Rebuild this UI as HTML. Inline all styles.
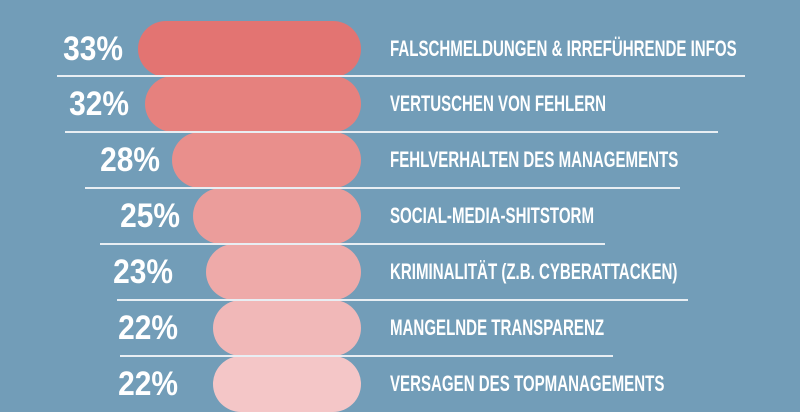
<!DOCTYPE html>
<html><head><meta charset="utf-8"><style>
body{margin:0;width:800px;height:400px;overflow:hidden;background:#729db8;position:relative;font-family:"Liberation Sans",sans-serif;font-weight:bold;color:#fff}
.bar{position:absolute;height:56px;border-radius:28px;right:439px}
.ln{position:absolute;height:1.5px;background:#e8eef3}
.p{position:absolute;font-size:34px;text-align:right;width:120px;line-height:56px;transform:scaleX(0.88);transform-origin:right center}
.t{position:absolute;left:390px;font-size:22px;line-height:56px;white-space:nowrap;transform:scaleX(0.685);transform-origin:left center}
</style></head><body>
<div class="bar" style="top:21px;left:138px;background:#e37472"></div>
<div class="bar" style="top:76px;left:145px;background:#e6817e"></div>
<div class="bar" style="top:132px;left:172px;background:#e98f8c"></div>
<div class="bar" style="top:188px;left:193px;background:#eb9d9b"></div>
<div class="bar" style="top:244px;left:206px;background:#eeaaa9"></div>
<div class="bar" style="top:300px;left:213px;background:#f1b8b8"></div>
<div class="bar" style="top:356px;left:213px;background:#f4c6c7"></div>
<div class="ln" style="top:75px;left:57px;width:688px"></div>
<div class="ln" style="top:131px;left:65px;width:653px"></div>
<div class="ln" style="top:187px;left:85px;width:595px"></div>
<div class="ln" style="top:243px;left:100px;width:505px"></div>
<div class="ln" style="top:299px;left:117px;width:571px"></div>
<div class="ln" style="top:355px;left:120px;width:493px"></div>
<div class="p" style="top:21px;left:3px">33%</div>
<div class="p" style="top:76px;left:9px">32%</div>
<div class="p" style="top:132px;left:40px">28%</div>
<div class="p" style="top:188px;left:60px">25%</div>
<div class="p" style="top:244px;left:53px">23%</div>
<div class="p" style="top:300px;left:58px">22%</div>
<div class="p" style="top:356px;left:58px">22%</div>
<div class="t" style="top:21px">FALSCHMELDUNGEN &amp; IRREFÜHRENDE INFOS</div>
<div class="t" style="top:76px">VERTUSCHEN VON FEHLERN</div>
<div class="t" style="top:132px">FEHLVERHALTEN DES MANAGEMENTS</div>
<div class="t" style="top:188px">SOCIAL-MEDIA-SHITSTORM</div>
<div class="t" style="top:244px">KRIMINALITÄT (Z.B. CYBERATTACKEN)</div>
<div class="t" style="top:300px">MANGELNDE TRANSPARENZ</div>
<div class="t" style="top:356px">VERSAGEN DES TOPMANAGEMENTS</div>
</body></html>
